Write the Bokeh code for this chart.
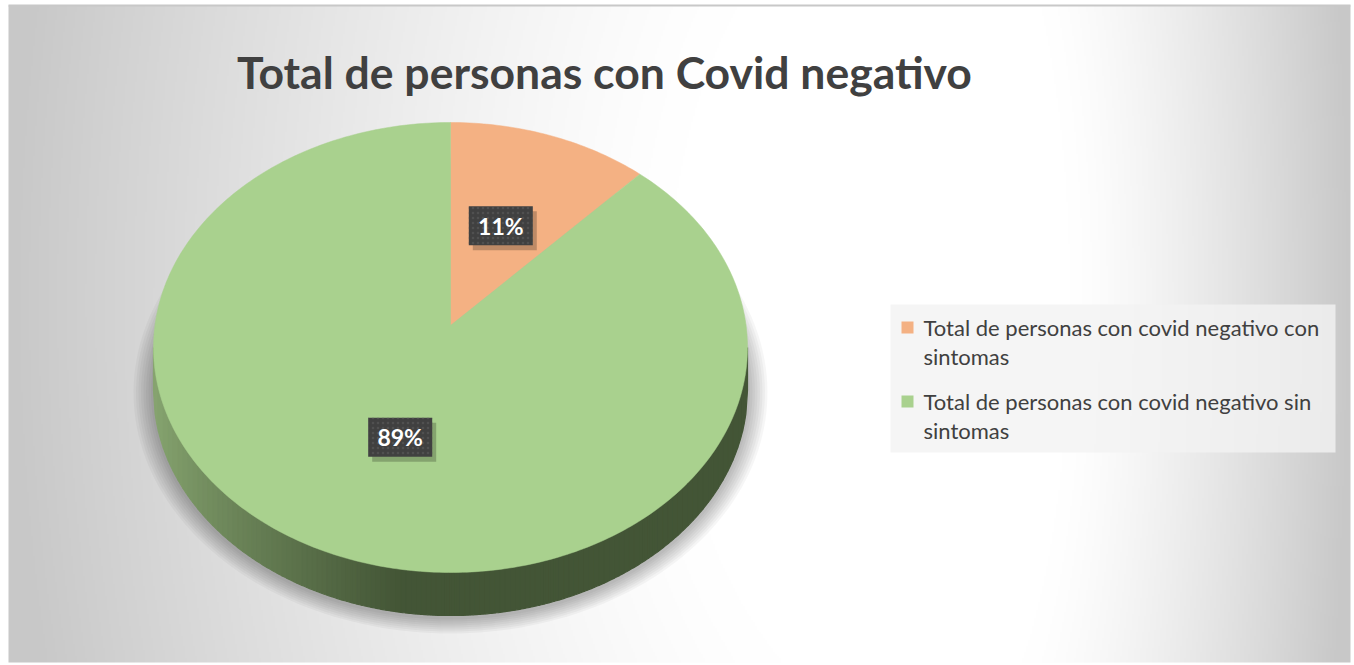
import numpy as np
from bokeh.plotting import figure
from bokeh.models import Range1d, ColumnDataSource, Label
from bokeh.core.properties import value
from bokeh.embed import file_html
from bokeh.resources import INLINE

# ---------------- data ----------------
title = "Total de personas con Covid negativo"
categories = ["Total de personas con covid negativo con sintomas",
              "Total de personas con covid negativo sin sintomas"]
legend_lines = [["Total de personas con covid negativo con", "sintomas"],
                ["Total de personas con covid negativo sin", "sintomas"]]
values = [11, 89]
colors = ["#F4B183", "#A9D18E"]

# ---------------- layout ----------------
W, H = 1354, 665
X0, X1, Y0, Y1 = 8, 1350, 5, 662          # chart area
CX, CY, RX, RY = 450, 347, 297, 225        # top face ellipse
APX, APY = 450, 325                        # apex of slices
DEPTH = 43
FONT = "Lato"
TXT = "#404040"

p = figure(width=W, height=H, x_range=Range1d(0, W), y_range=Range1d(H, 0),
           output_backend="svg", toolbar_location=None, min_border=0)
p.axis.visible = False
p.grid.visible = False
p.outline_line_color = None
p.background_fill_color = "white"
p.border_fill_color = "white"

# ---------------- background gradient ----------------
step = 2
gw, gh = (X1 - X0) // step, (Y1 - Y0) // step
xs = X0 + (np.arange(gw) + 0.5) * step
ys = Y0 + (np.arange(gh) + 0.5) * step
XX, YY = np.meshgrid(xs, ys)
dx = XX - 950.0
dy = YY - 300.0
sx = np.where(dx < 0, 940.0, 400.0)
d = np.sqrt((dx / sx) ** 2 + (dy / 1500.0) ** 2)
t = np.clip((d - 0.3) / 0.7, 0, 1) ** 1.3
b = (255 - 55 * t).astype(np.uint8)
img = np.empty((gh, gw), dtype=np.uint32)
view = img.view(dtype=np.uint8).reshape((gh, gw, 4))
view[..., 0] = b
view[..., 1] = b
view[..., 2] = b
view[..., 3] = 255
p.image_rgba(image=[img], x=X0, y=Y0, dw=X1 - X0, dh=Y1 - Y0)

# border line on top
p.segment(x0=[X0], y0=[Y0], x1=[X1], y1=[Y0], line_color="#c8c8c8", line_width=2)

# ---------------- shadow ----------------
for k in range(8):
    grow = 20 - k * 2.5
    th = np.linspace(0, 2 * np.pi, 200)
    p.patch(CX + (RX + grow) * np.sin(th), CY + 45 + (RY + grow * 0.8) * np.cos(th),
            fill_color="black", fill_alpha=0.035, line_color=None)

# ---------------- side wall ----------------
def lerp(c1, c2, t):
    a = np.array([int(c1[i:i + 2], 16) for i in (1, 3, 5)])
    bb = np.array([int(c2[i:i + 2], 16) for i in (1, 3, 5)])
    c = (a + (bb - a) * t).astype(int)
    return "#%02x%02x%02x" % tuple(c)

nstrip = 120
edges = np.linspace(CX - RX, CX + RX, nstrip + 1)
for i in range(nstrip):
    xa, xb = edges[i], edges[i + 1]
    xx = np.linspace(xa, xb, 4)
    top = CY + RY * np.sqrt(np.clip(1 - ((xx - CX) / RX) ** 2, 0, 1))
    poly_x = list(xx) + list(xx[::-1])
    poly_y = list(top) + list((top + DEPTH)[::-1])
    tt = np.clip(((xa + xb) / 2 - (CX - RX)) / 250.0, 0, 1) ** 0.8
    col = lerp("#88a671", "#435536", tt)
    p.patch(poly_x, poly_y, fill_color=col, line_color=col, line_width=1.2)

# ---------------- top face slices ----------------
total = float(sum(values))
start = 0.0
mids = []
for v, c in zip(values, colors):
    frac = v / total
    a0, a1 = start * 2 * np.pi, (start + frac) * 2 * np.pi
    th = np.linspace(a0, a1, max(8, int(400 * frac)))
    px = [APX] + list(CX + RX * np.sin(th))
    py = [APY] + list(CY - RY * np.cos(th))
    p.patch(px, py, fill_color=c, line_color=c, line_width=0.5)
    mids.append((a0 + a1) / 2)
    start += frac

# ---------------- data labels ----------------
lab_f = 0.5
lx = [APX + RX * lab_f * np.sin(m) for m in mids]
ly = [APY - RY * lab_f * np.cos(m) + 6 for m in mids]
lab_txt = ["%d%%" % round(100 * v / total) for v in values]
src = ColumnDataSource(dict(x=lx, y=ly, t=lab_txt,
                            sx=[x + 4 for x in lx], sy=[y + 5 for y in ly]))
p.rect(x="sx", y="sy", width=64, height=39, source=src,
       fill_color="black", fill_alpha=0.22, line_color=None)
p.rect(x="x", y="y", width=64, height=39, source=src,
       fill_color="#404040", line_color=None,
       hatch_pattern="dot", hatch_color="#5a5a5a", hatch_scale=5, hatch_alpha=0.6)
p.text(x="x", y="y", text="t", source=src, text_font=value(FONT),
       text_font_style="bold", text_font_size="23px", text_color="white",
       text_align="center", text_baseline="middle")

# ---------------- title ----------------
p.add_layout(Label(x=604, y=71, text=title, text_font=FONT, text_font_style="bold",
                   text_font_size="44.5px", text_color=TXT, text_align="center",
                   text_baseline="alphabetic"))

# ---------------- legend ----------------
LX0, LY0, LX1, LY1 = 890, 304, 1335, 452
p.quad(left=[LX0], right=[LX1], top=[LY0], bottom=[LY1],
       fill_color="#f2f2f2", fill_alpha=0.8, line_color=None)
item_y = [327, 401]
p.rect(x=[907] * len(colors), y=item_y, width=12, height=12,
       fill_color=colors, line_color=None)
tx, ty, tt_ = [], [], []
for yy, lines in zip(item_y, legend_lines):
    for j, ln in enumerate(lines):
        tx.append(923)
        ty.append(yy + j * 28.5)
        tt_.append(ln)
p.text(x=tx, y=ty, text=tt_, text_font=value(FONT), text_font_size="22px",
       text_color=TXT, text_align="left", text_baseline="middle")

open("out.html", "w").write(file_html(p, INLINE))
